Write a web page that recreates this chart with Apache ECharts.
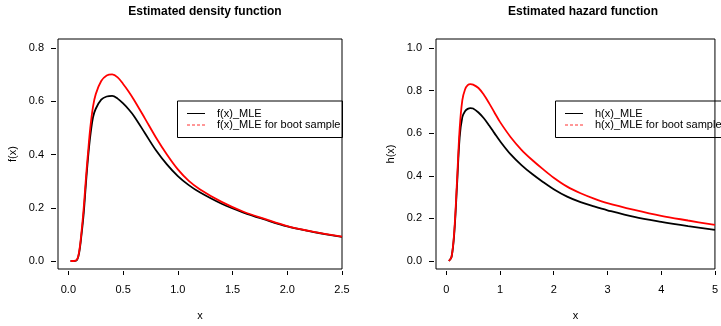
<!DOCTYPE html>
<html>
<head>
<meta charset="utf-8">
<script src="https://cdn.jsdelivr.net/npm/echarts@6/dist/echarts.min.js"></script>
<style>
html,body{margin:0;padding:0;background:#fff;}
#chart{width:721px;height:326px;}
</style>
</head>
<body>
<div id="chart"></div>
<script>
// ---- Density panel data ----
const fX    = [0.02, 0.05, 0.08, 0.10, 0.12, 0.14, 0.16, 0.18, 0.20, 0.225, 0.25, 0.30, 0.35, 0.40, 0.45, 0.50, 0.55, 0.60, 0.70, 0.80, 0.90, 1.00, 1.10, 1.20, 1.40, 1.60, 1.80, 2.00, 2.20, 2.40, 2.50];
const fMLE  = [0.000, 0.000, 0.005, 0.035, 0.100, 0.180, 0.290, 0.390, 0.470, 0.540, 0.572, 0.606, 0.618, 0.620, 0.610, 0.592, 0.570, 0.544, 0.480, 0.416, 0.363, 0.319, 0.285, 0.258, 0.215, 0.182, 0.155, 0.130, 0.112, 0.097, 0.091];
const fBoot = [0.000, 0.000, 0.006, 0.040, 0.110, 0.200, 0.310, 0.410, 0.500, 0.580, 0.627, 0.676, 0.697, 0.701, 0.690, 0.665, 0.637, 0.605, 0.535, 0.464, 0.400, 0.344, 0.301, 0.270, 0.222, 0.185, 0.157, 0.131, 0.113, 0.098, 0.092];

// ---- Hazard panel data ----
const hX    = [0.05, 0.10, 0.15, 0.20, 0.25, 0.30, 0.35, 0.40, 0.45, 0.50, 0.60, 0.70, 0.80, 0.90, 1.00, 1.20, 1.40, 1.60, 1.80, 2.00, 2.25, 2.50, 2.75, 3.00, 3.50, 4.00, 4.50, 5.00];
const hMLE  = [0.000, 0.020, 0.130, 0.350, 0.580, 0.675, 0.703, 0.714, 0.718, 0.716, 0.697, 0.670, 0.636, 0.599, 0.563, 0.500, 0.450, 0.408, 0.371, 0.337, 0.302, 0.276, 0.256, 0.238, 0.207, 0.184, 0.164, 0.146];
const hBoot = [0.000, 0.020, 0.140, 0.370, 0.620, 0.755, 0.805, 0.825, 0.830, 0.828, 0.812, 0.780, 0.740, 0.696, 0.653, 0.581, 0.522, 0.474, 0.431, 0.391, 0.349, 0.318, 0.293, 0.272, 0.240, 0.212, 0.190, 0.169];

// ---- Tick labels ----
const fXTicks = [0, 0.5, 1.0, 1.5, 2.0, 2.5];
const fYTicks = [0, 0.2, 0.4, 0.6, 0.8];
const hXTicks = [0, 1, 2, 3, 4, 5];
const hYTicks = [0, 0.2, 0.4, 0.6, 0.8, 1.0];

const titles = ['Estimated density function', 'Estimated hazard function'];
const names = ['f(x)_MLE', 'f(x)_MLE for boot sample', 'h(x)_MLE', 'h(x)_MLE for boot sample'];

const FONT = 'Liberation Sans, Arial, Helvetica, sans-serif';
const pairs = (xs, ys) => xs.map((x, i) => [x, ys[i]]);

function xAxisCfg(gi, min, max, ticks, dec) {
  return {
    type: 'value', gridIndex: gi, min: min, max: max, position: 'bottom',
    name: 'x', nameLocation: 'middle', nameGap: 39,
    nameTextStyle: { fontFamily: FONT, fontSize: 11, color: '#000' },
    offset: 2,
    axisLine: { show: false, onZero: false },
    splitLine: { show: false },
    axisTick: { show: true, inside: false, length: 4, customValues: ticks, lineStyle: { color: '#000', width: 1 } },
    axisLabel: { customValues: ticks, margin: 13, fontFamily: FONT, fontSize: 11, color: '#000',
      formatter: v => v.toFixed(dec) }
  };
}
function yAxisCfg(gi, min, max, ticks, nm) {
  return {
    type: 'value', gridIndex: gi, min: min, max: max, position: 'left',
    name: nm, nameLocation: 'middle', nameGap: 38,
    nameTextStyle: { fontFamily: FONT, fontSize: 11, color: '#000' },
    offset: 2,
    axisLine: { show: false, onZero: false },
    splitLine: { show: false },
    axisTick: { show: true, inside: false, length: 5, customValues: ticks, lineStyle: { color: '#000', width: 1 } },
    axisLabel: { customValues: ticks, margin: 12, fontFamily: FONT, fontSize: 11, color: '#000',
      formatter: v => v.toFixed(1) }
  };
}
function lineSeries(name, xi, data, color) {
  return {
    type: 'line', name: name, xAxisIndex: xi, yAxisIndex: xi,
    data: data, symbol: 'none', showSymbol: false, smooth: 0.35,
    lineStyle: { color: color, width: 1.8 }, itemStyle: { color: color },
    silent: true, animation: false
  };
}
function legendCfg(left, n1, n2) {
  return {
    left: left, top: 101, orient: 'vertical',
    selectedMode: false,
    borderColor: '#000', borderWidth: 1, borderRadius: 0,
    padding: [7, 2, 7, 9],
    itemWidth: 18, itemHeight: 12, itemGap: 0.5,
    textStyle: { fontFamily: FONT, fontSize: 11, color: '#000', padding: [0, 0, 0, 7] },
    data: [
      { name: n1, itemStyle: { opacity: 0 }, lineStyle: { width: 1, color: '#000', type: 'solid' } },
      { name: n2, itemStyle: { opacity: 0 }, lineStyle: { width: 1, color: '#ff3030', type: [3, 2] } }
    ]
  };
}

const chart = echarts.init(document.getElementById('chart'), null, { renderer: 'canvas' });
chart.setOption({
  animation: false,
  backgroundColor: '#fff',
  title: [
    { text: titles[0], left: 205, top: 6, textAlign: 'center', padding: 0,
      textStyle: { fontFamily: FONT, fontSize: 12, fontWeight: 'bold', color: '#000' } },
    { text: titles[1], left: 583, top: 6, textAlign: 'center', padding: 0,
      textStyle: { fontFamily: FONT, fontSize: 12, fontWeight: 'bold', color: '#000' } }
  ],
  legend: [legendCfg(177.5, names[0], names[1]), legendCfg(555.5, names[2], names[3])],
  grid: [
    { left: 58, top: 39, width: 284, height: 230, show: true, borderColor: '#000', borderWidth: 1, backgroundColor: 'transparent', containLabel: false },
    { left: 436, top: 39, width: 284, height: 230, show: true, borderColor: '#000', borderWidth: 1, backgroundColor: 'transparent', containLabel: false }
  ],
  xAxis: [xAxisCfg(0, -0.095, 2.5, fXTicks, 1), xAxisCfg(1, -0.19, 5, hXTicks, 0)],
  yAxis: [yAxisCfg(0, -0.030, 0.834, fYTicks, 'f(x)'), yAxisCfg(1, -0.0376, 1.042, hYTicks, 'h(x)')],
  series: [
    lineSeries(names[0], 0, pairs(fX, fMLE), '#000'),
    lineSeries(names[1], 0, pairs(fX, fBoot), '#ff0000'),
    lineSeries(names[2], 1, pairs(hX, hMLE), '#000'),
    lineSeries(names[3], 1, pairs(hX, hBoot), '#ff0000')
  ]
});
</script>
</body>
</html>
